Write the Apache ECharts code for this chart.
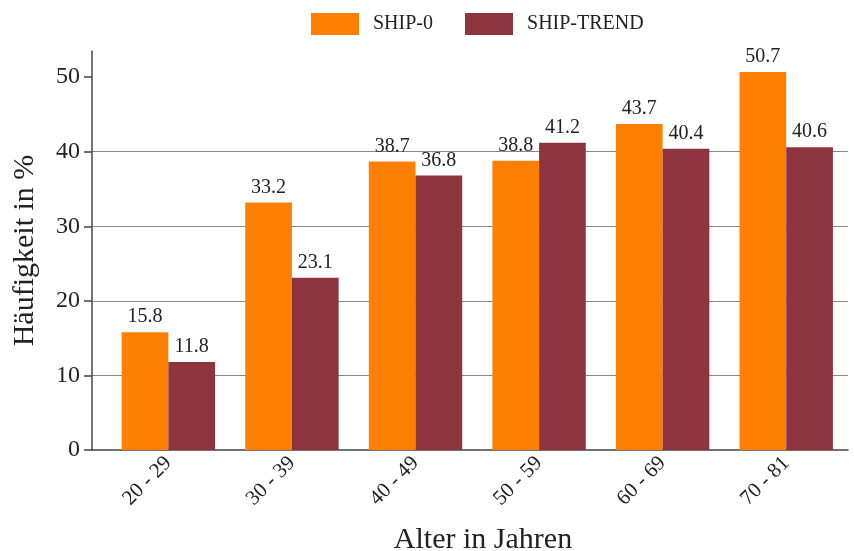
<!DOCTYPE html>
<html>
<head>
<meta charset="utf-8">
<script src="https://cdn.jsdelivr.net/npm/echarts@6/dist/echarts.min.js"></script>
<style>
  html, body { margin: 0; padding: 0; background: #fff; }
  #chart { width: 854px; height: 551px; }
</style>
</head>
<body>
<div id="chart"></div>
<script>
var categories = ['20 - 29', '30 - 39', '40 - 49', '50 - 59', '60 - 69', '70 - 81'];
var ship0 = [15.8, 33.2, 38.7, 38.8, 43.7, 50.7];
var shipTrend = [11.8, 23.1, 36.8, 41.2, 40.4, 40.6];
var yTicks = [0, 10, 20, 30, 40, 50];

var font = 'Liberation Serif';
var ink = '#222';

function toPoints(values) {
  return values.map(function (v, i) { return [i, v]; });
}

var chart = echarts.init(document.getElementById('chart'), null, { renderer: 'canvas' });

chart.setOption({
  backgroundColor: '#fff',
  animation: false,
  textStyle: { fontFamily: font },
  legend: {
    top: 8,
    left: 306,
    itemWidth: 48,
    itemHeight: 22,
    itemGap: 32,
    icon: 'rect',
    textStyle: { fontFamily: font, fontSize: 20, color: ink, padding: [0, 0, 0, 9] },
    data: ['SHIP-0', 'SHIP-TREND']
  },
  grid: { left: 92, right: 6, top: 51, bottom: 101, outerBoundsMode: 'none', containLabel: false },
  xAxis: {
    type: 'value',
    min: -0.618,
    max: 5.5,
    name: 'Alter in Jahren',
    nameLocation: 'middle',
    nameGap: 75,
    nameTextStyle: { fontFamily: font, fontSize: 30, color: ink, padding: [0, 0, 0, 26] },
    axisLine: { show: true, onZero: false, lineStyle: { color: '#444', width: 1.5 } },
    axisTick: { show: false },
    splitLine: { show: false },
    axisLabel: {
      customValues: [0, 1, 2, 3, 4, 5],
      rotate: 45,
      margin: 10,
      fontFamily: font,
      fontSize: 21,
      color: ink,
      formatter: function (v) { return categories[Math.round(v)]; }
    }
  },
  yAxis: {
    type: 'value',
    min: 0,
    max: 53.5,
    name: 'Häufigkeit in %',
    nameLocation: 'middle',
    nameGap: 52,
    nameTextStyle: { fontFamily: font, fontSize: 30, color: ink },
    axisLine: { show: true, onZero: false, lineStyle: { color: '#444', width: 1.5 } },
    axisTick: { show: true, length: 8, customValues: yTicks, lineStyle: { color: '#444', width: 1.5 } },
    axisLabel: { customValues: yTicks, margin: 12, fontFamily: font, fontSize: 24, color: ink },
    splitLine: { show: true, showMinLine: false, showMaxLine: false, lineStyle: { color: '#888', width: 1 } }
  },
  series: [
    {
      name: 'SHIP-0',
      type: 'bar',
      barWidth: 46.7,
      barGap: '0%',
      itemStyle: { color: '#ff8000' },
      label: { show: true, position: 'top', distance: 5, fontFamily: font, fontSize: 20, color: ink },
      data: toPoints(ship0)
    },
    {
      name: 'SHIP-TREND',
      type: 'bar',
      barWidth: 46.7,
      barGap: '0%',
      itemStyle: { color: '#8e343e' },
      label: { show: true, position: 'top', distance: 5, fontFamily: font, fontSize: 20, color: ink },
      data: toPoints(shipTrend)
    }
  ]
});
</script>
</body>
</html>
